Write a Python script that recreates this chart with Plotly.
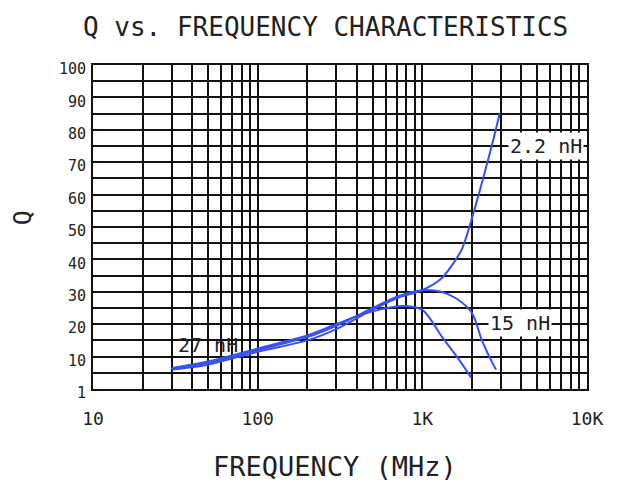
import math
import plotly.graph_objects as go

# Data
freq_2n2 = [30, 50, 100, 200, 300, 500, 700, 1000, 1300, 1600, 1750, 1930, 2200, 2440, 2700, 2950]
q_2n2 = [6.0, 7.5, 11.5, 15.0, 18.5, 24.5, 28.0, 30.5, 34.0, 40.0, 43.5, 50.0, 60.0, 68.5, 77.0, 85.0]

freq_15n = [30, 50, 100, 200, 300, 500, 700, 1000, 1300, 1600, 2000, 2300, 2550, 2800]
q_15n = [6.0, 8.0, 12.0, 16.0, 19.5, 25.0, 28.5, 30.5, 30.0, 28.0, 23.5, 15.0, 10.0, 6.0]

freq_27n = [30, 50, 100, 200, 300, 400, 550, 750, 1000, 1320, 1675, 1980]
q_27n = [6.5, 8.5, 12.5, 16.5, 20.0, 22.5, 24.5, 25.6, 24.4, 16.0, 9.0, 3.5]

x_tick_vals = [10, 20, 30, 40, 50, 60, 70, 80, 90,
               100, 200, 300, 400, 500, 600, 700, 800, 900,
               1000, 2000, 3000, 4000, 5000, 6000, 7000, 8000, 9000, 10000]
x_tick_text = ["10"] + [""] * 8 + ["100"] + [""] * 8 + ["1K"] + [""] * 8 + ["10K"]

y_tick_vals = list(range(0, 101, 5))
y_tick_text = ["1" if v == 0 else (str(v) if v % 10 == 0 else "") for v in y_tick_vals]

labels = [
    ("2.2 nH", 5600, 75, True),
    ("15 nH", 3900, 20.5, True),
    ("27 nH", 50, 13.6, False),
]

BLUE = "#3550f5"
FONT = "DejaVu Sans Mono"

fig = go.Figure()
for fx, fy in [(freq_2n2, q_2n2), (freq_15n, q_15n), (freq_27n, q_27n)]:
    fig.add_trace(go.Scatter(x=fx, y=fy, mode="lines",
                             line=dict(color=BLUE, width=2, shape="spline", smoothing=0.8),
                             showlegend=False, hoverinfo="skip"))

for text, lx, ly, bg in labels:
    fig.add_annotation(x=math.log10(lx), y=ly, xref="x", yref="y", text=text, showarrow=False,
                       font=dict(family=FONT, size=20, color="#222"),
                       bgcolor="white" if bg else "rgba(0,0,0,0)", borderpad=1,
                       xanchor="center", yanchor="middle")

fig.add_annotation(x=0.47, y=1.17, xref="paper", yref="paper",
                   text="Q vs. FREQUENCY CHARACTERISTICS", showarrow=False,
                   font=dict(family=FONT, size=26, color="#222"),
                   xanchor="center", yanchor="top")
fig.add_annotation(x=0.49, y=-0.238, xref="paper", yref="paper",
                   text="FREQUENCY (MHz)", showarrow=False,
                   font=dict(family=FONT, size=27, color="#222"),
                   xanchor="center", yanchor="middle")
fig.add_annotation(x=-0.144, y=0.53, xref="paper", yref="paper",
                   text="Q", showarrow=False, textangle=-90,
                   font=dict(family=FONT, size=25, color="#222"),
                   xanchor="center", yanchor="middle")

fig.update_layout(
    width=627, height=481,
    margin=dict(l=85, r=48, t=57, b=100),
    paper_bgcolor="white", plot_bgcolor="white",
    xaxis=dict(type="log", range=[1, 4], tickmode="array",
               tickvals=x_tick_vals, ticktext=x_tick_text,
               showgrid=True, gridcolor="#111", gridwidth=1.5,
               showline=True, linecolor="#111", linewidth=2, mirror=True,
               ticks="", ticklabelstandoff=12, zeroline=False,
               tickfont=dict(family=FONT, size=18, color="#222")),
    yaxis=dict(range=[0, 100], tickmode="array",
               tickvals=y_tick_vals, ticktext=y_tick_text,
               showgrid=True, gridcolor="#111", gridwidth=1.5,
               showline=True, linecolor="#111", linewidth=2, mirror=True,
               ticks="", ticklabelstandoff=2, ticklabelshift=4, zeroline=False,
               tickfont=dict(family=FONT, size=15, color="#222")),
)

fig.write_html("out.html")
